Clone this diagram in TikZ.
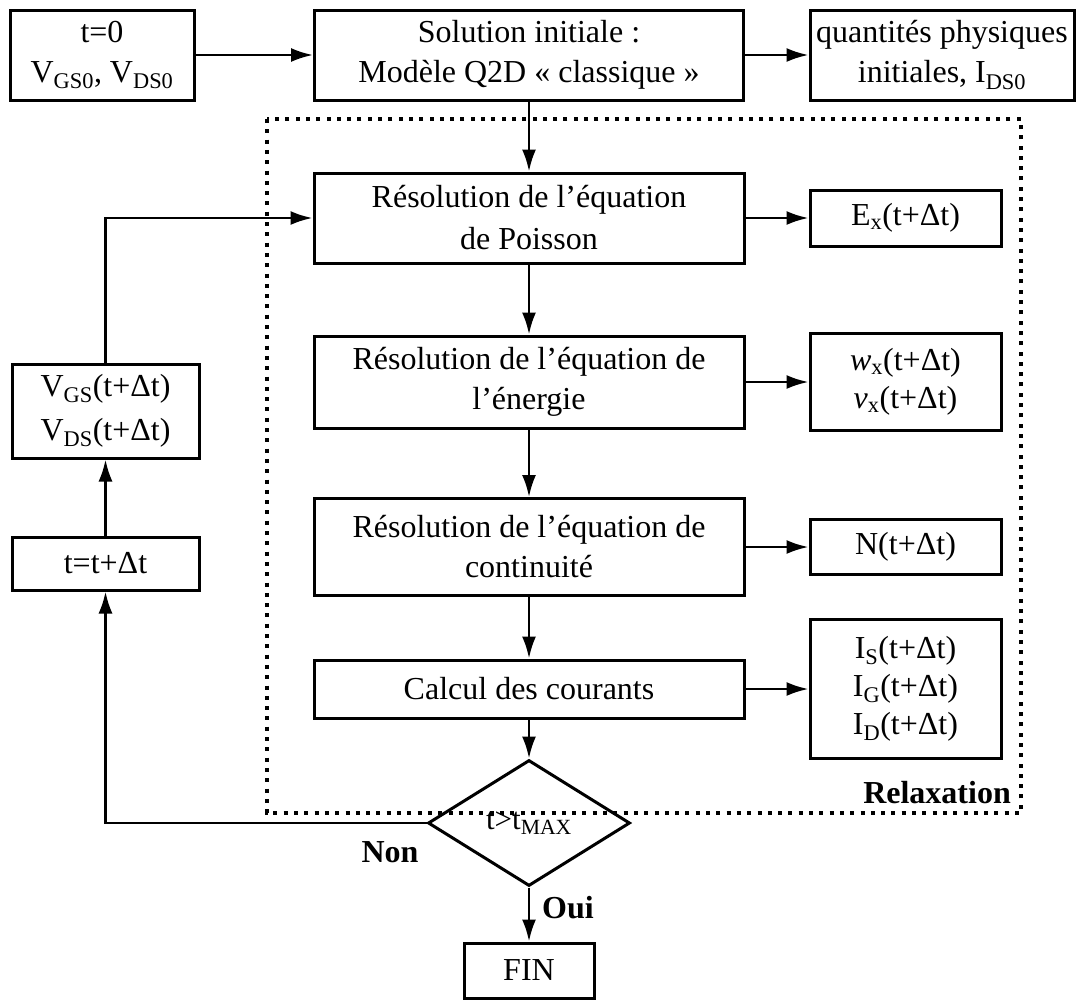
\documentclass[tikz,border=0pt]{standalone}
\usepackage{fontspec}
\setmainfont{Liberation Serif}
\usetikzlibrary{arrows.meta,shapes.geometric}
\newcommand\sbs[1]{\textsubscript{#1}}
\begin{document}
\begin{tikzpicture}[x=1pt,y=-1pt,
  box/.style={draw, line width=3pt, align=center, inner sep=0pt,
    font=\fontsize{32}{40}\selectfont},
  arr/.style={line width=2.6pt, -{Latex[length=22pt,width=14pt]}},
  tag/.style={font=\fontsize{32}{38}\selectfont\bfseries, inner sep=0pt},
  relax/.style={line width=3.2pt, dash pattern=on 4pt off 6.3pt}]
\useasboundingbox (0,0) rectangle (1082,1001);

% initial step
\node[box, minimum width=184pt, minimum height=90pt] (t0) at (102,55)
  {t=0\\V\sbs{GS0}, V\sbs{DS0}};
\node[box, minimum width=429pt, minimum height=90pt] (sol) at (529,55)
  {Solution initiale :\\Modèle Q2D « classique »};
\node[box, minimum width=264pt, minimum height=90pt] (qty) at (942,55)
  {quantités physiques\\initiales, I\sbs{DS0}};

% relaxation loop
\node[box, minimum width=430pt, minimum height=90pt,
  font=\fontsize{32}{42}\selectfont] (pois) at (529,218)
  {Résolution de l’équation\\de Poisson};
\node[box, minimum width=191pt, minimum height=56pt] (ex) at (905.5,218)
  {E\sbs{x}(t+Δt)};

\node[box, minimum width=430pt, minimum height=92pt] (ener) at (529,382)
  {Résolution de l’équation de\\l’énergie};
\node[box, minimum width=191pt, minimum height=97pt,
  font=\fontsize{32}{38}\selectfont] (wv) at (905.5,382)
  {\textit{w}\sbs{x}(t+Δt)\\\textit{v}\sbs{x}(t+Δt)};

\node[box, minimum width=430pt, minimum height=97pt] (cont) at (529,547)
  {Résolution de l’équation de\\continuité};
\node[box, minimum width=191pt, minimum height=55pt] (nn) at (905.5,547)
  {N(t+Δt)};

\node[box, minimum width=430pt, minimum height=58pt] (cur) at (529,689)
  {Calcul des courants};
\node[box, minimum width=191pt, minimum height=139pt,
  font=\fontsize{32}{38}\selectfont] (ii) at (905.5,689)
  {I\sbs{S}(t+Δt)\\I\sbs{G}(t+Δt)\\I\sbs{D}(t+Δt)};

% test and end
\node[draw, diamond, line width=3pt, minimum width=202pt, minimum height=126pt,
  inner sep=0pt, font=\fontsize{31}{36}\selectfont] (dia) at (529,823)
  {\raisebox{-5pt}{t>t\sbs{MAX}}};
\node[box, minimum width=130pt, minimum height=55pt] (fin) at (529,970.5) {FIN};

% time step
\node[box, minimum width=187pt, minimum height=53pt] (tt) at (105.5,563.5)
  {t=t+Δt};
\node[box, minimum width=187pt, minimum height=94pt,
  font=\fontsize{32}{44}\selectfont] (vv) at (105.5,411)
  {V\sbs{GS}(t+Δt)\\V\sbs{DS}(t+Δt)};

% relaxation frame
\draw[relax] (267,119) rectangle (1021,813);

% connectors
\draw[arr] (t0.east) -- (sol.west);
\draw[arr] (sol.east) -- (qty.west);
\draw[arr] (sol.south) -- (pois.north);
\draw[arr] (pois.east) -- (ex.west);
\draw[arr] (pois.south) -- (ener.north);
\draw[arr] (ener.east) -- (wv.west);
\draw[arr] (ener.south) -- (cont.north);
\draw[arr] (cont.east) -- (nn.west);
\draw[arr] (cont.south) -- (cur.north);
\draw[arr] (cur.east) -- (ii.west);
\draw[arr] (cur.south) -- (dia.north);
\draw[arr] (dia.south) -- (fin.north);
\draw[arr] (dia.west) -| (tt.south);
\draw[arr] (tt.north) -- (vv.south);
\draw[arr] (vv.north) |- (pois.west);

% labels
\node[tag] (non) at (390,852) {Non};
\node[tag] (oui) at (568,908) {Oui};
\node[tag, anchor=east] (rlx) at (1011,793) {Relaxation};
\end{tikzpicture}
\end{document}
